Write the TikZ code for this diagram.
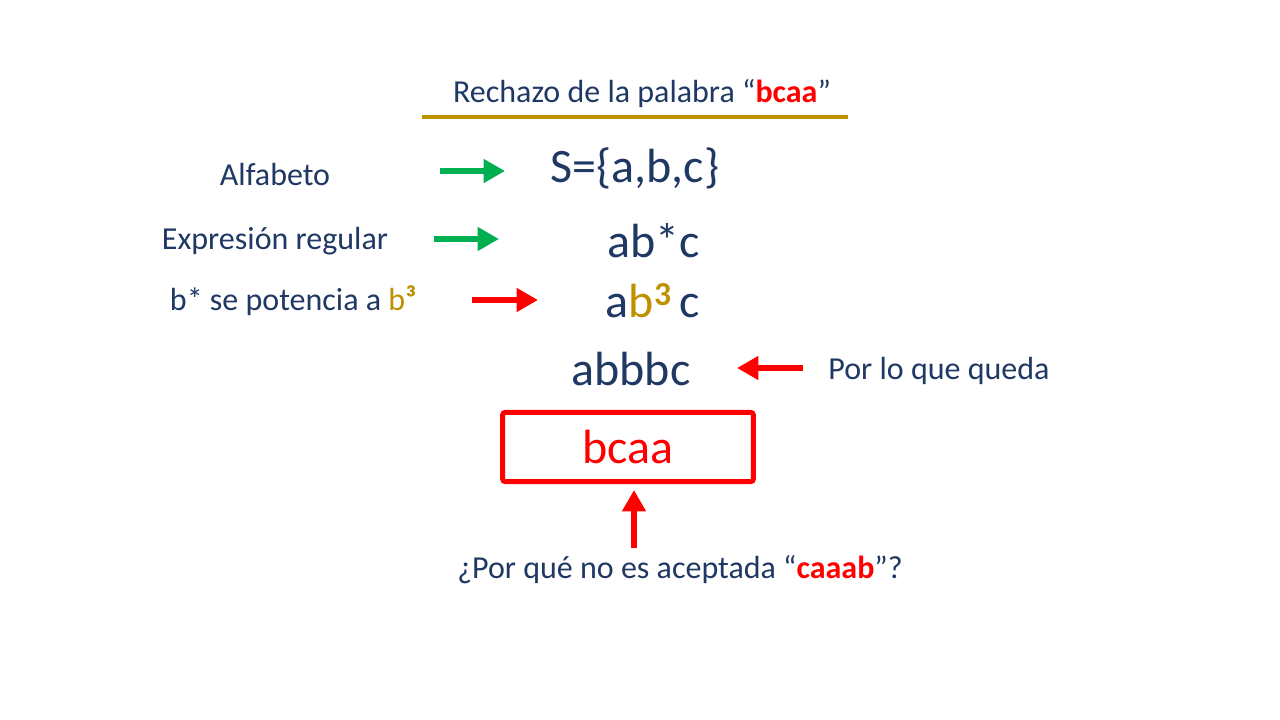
\documentclass[tikz,border=0pt]{standalone}
\usepackage{fontspec}
\setmainfont{Carlito}
\usepackage{tikz}
\usetikzlibrary{arrows.meta}

\definecolor{navy}{HTML}{203864}
\definecolor{gold}{HTML}{BF9000}
\definecolor{okgreen}{HTML}{00B050}
\definecolor{bad}{HTML}{FF0000}

\begin{document}
\begin{tikzpicture}[x=0.75pt, y=-0.75pt,
        txt/.style={text=navy, font=\fontsize{24}{28}\selectfont, inner sep=0pt},
        big/.style={text=navy, font=\fontsize{36}{42}\selectfont, inner sep=0pt},
        garrow/.style={draw=okgreen, line width=5.2pt, -{Triangle[length=16pt, width=17pt]}},
        rarrow/.style={draw=bad, line width=5.2pt, -{Triangle[length=16pt, width=17pt]}}]
        \useasboundingbox[fill=white] (0,0) rectangle (1280,720);

        % title
        \node[txt] (title) at (642,94) {Rechazo de la palabra \textquotedblleft\textcolor{bad}{\textbf{bcaa}}\textquotedblright};
        \draw[gold, line width=3pt] (422,117) -- (848,117);

        % left column
        \node[txt] (alfa) at (275,175) {Alfabeto};
        \node[txt] (expr) at (275,241) {Expresión regular};
        \node[txt] (pot) at (293,301) {b* se potencia a \textcolor{gold}{b\textbf{³}}};

        % right column
        \node[big] (set) at (635,168) {S=\{a,b,c\}};
        \node[big] (regex) at (654,241) {ab*c};
        \node[big] (pow) at (653,301) {a\textcolor{gold}{b\textsuperscript{\textbf{3}}}\,c};
        \node[big] (word) at (631,369) {abbbc};
        \node[txt] (rest) at (939,371) {Por lo que queda};

        % rejected word
        \node[draw=bad, line width=3.75pt, rounded corners=2pt, minimum width=188pt, minimum height=52pt,
              text=bad, font=\fontsize{36}{42}\selectfont] (reject) at (628,447) {bcaa};
        \node[txt] (quest) at (680,570) {¿Por qué no es aceptada \textquotedblleft\textcolor{bad}{\textbf{caaab}}\textquotedblright?};

        % arrow ends
        \coordinate (g1) at (440,171);
        \coordinate (g1e) at (505,171);
        \coordinate (g2) at (434,239);
        \coordinate (g2e) at (499,239);
        \coordinate (r1) at (472,300);
        \coordinate (r1e) at (538,300);
        \coordinate (r2) at (803,368);
        \coordinate (r2e) at (737,368);
        \coordinate (r3) at (634,548);
        \coordinate (r3e) at (634,490);

        \draw[garrow] (g1) -- (g1e);
        \draw[garrow] (g2) -- (g2e);
        \draw[rarrow] (r1) -- (r1e);
        \draw[rarrow] (r2) -- (r2e);
        \draw[rarrow] (r3) -- (r3e);
    \end{tikzpicture}
\end{document}
